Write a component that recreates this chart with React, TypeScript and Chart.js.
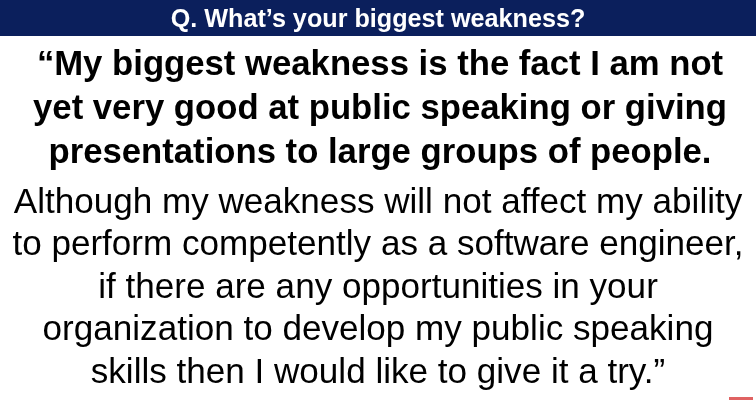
import { useEffect, useRef } from "react";
import { Chart, registerables } from "chart.js";

Chart.register(...registerables);

const heading = "Q. What\u2019s your biggest weakness?";
const boldLines = [
  "\u201cMy biggest weakness is the fact I am not",
  "yet very good at public speaking or giving",
  "presentations to large groups of people.",
];
const plainLines = [
  "Although my weakness will not affect my ability",
  "to perform competently as a software engineer,",
  "if there are any opportunities in your",
  "organization to develop my public speaking",
  "skills then I would like to give it a try.\u201d",
];

// draws the slide text on the canvas
const slidePlugin = {
  id: "slideText",
  afterDraw(chart: Chart) {
    const ctx = chart.ctx;
    const w = chart.width;
    const cx = w / 2 + 2;
    ctx.save();

    // header band
    ctx.fillStyle = "#0b1f5c";
    ctx.fillRect(0, 0, w, 36);
    ctx.fillStyle = "#ffffff";
    ctx.textAlign = "center";
    ctx.textBaseline = "alphabetic";
    ctx.font = "bold 26.5px 'Liberation Sans', Arial, sans-serif";
    // slightly condensed like the original narrow font
    ctx.save();
    ctx.translate(cx - 2, 27);
    ctx.scale(0.95, 1);
    ctx.fillText(heading, 0, 0);
    ctx.restore();

    ctx.fillStyle = "#000000";
    ctx.font = "bold 34.7px 'Liberation Sans', Arial, sans-serif";
    boldLines.forEach((line, i) => {
      ctx.fillText(line, cx, 75 + i * 44);
    });

    ctx.font = "35.1px 'Liberation Sans', Arial, sans-serif";
    plainLines.forEach((line, i) => {
      ctx.fillText(line, cx - 2, 212.5 + i * 42.5);
    });

    // small red marker bottom right
    ctx.fillStyle = "#e06262";
    ctx.fillRect(729, 397, 24, 3);
    ctx.restore();
  },
};

export default function App() {
  const canvasRef = useRef<HTMLCanvasElement>(null);

  useEffect(() => {
    if (!canvasRef.current) return;
    const chart = new Chart(canvasRef.current, {
      type: "bar",
      data: { labels: [], datasets: [] },
      options: {
        responsive: true,
        maintainAspectRatio: false,
        animation: false,
        events: [],
        plugins: {
          legend: { display: false },
          tooltip: { enabled: false },
        },
        scales: {
          x: { display: false },
          y: { display: false },
        },
      },
      plugins: [slidePlugin],
    });
    return () => chart.destroy();
  }, []);

  return (
    <div
      style={{
        position: "absolute",
        left: 0,
        top: 0,
        width: 756,
        height: 400,
        background: "#ffffff",
      }}
    >
      <canvas ref={canvasRef}></canvas>
    </div>
  );
}
